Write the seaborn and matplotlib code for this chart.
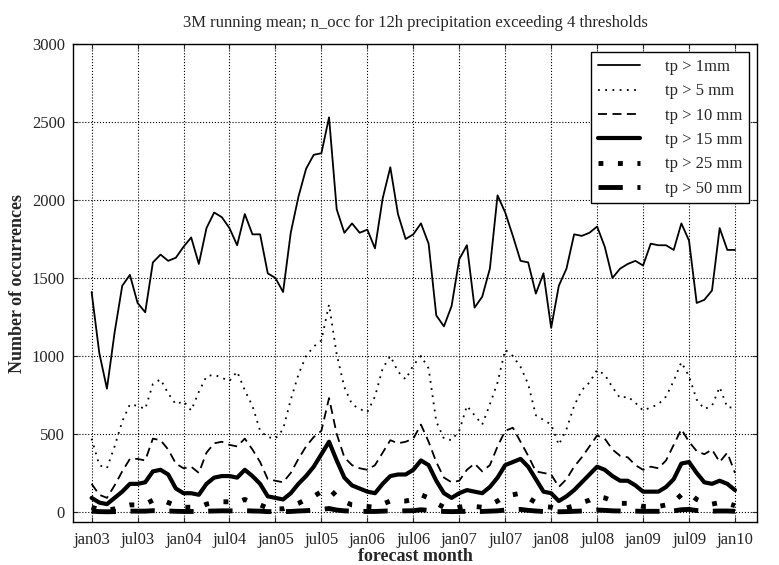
import numpy as np
import pandas as pd
import seaborn as sns
import matplotlib.pyplot as plt

# Dados (médias móveis de 3 meses, jan03 .. jan10)
tp1 = [1410, 1020, 790, 1150, 1450, 1520, 1340, 1280, 1600, 1650, 1610, 1630,
       1700, 1760, 1590, 1820, 1920, 1890, 1820, 1710, 1910, 1780, 1780, 1530,
       1500, 1410, 1790, 2020, 2200, 2290, 2300, 2530, 1940, 1790, 1850, 1790,
       1810, 1690, 2010, 2210, 1910, 1750, 1780, 1850, 1720, 1260, 1190, 1320,
       1620, 1710, 1310, 1380, 1560, 2030, 1920, 1770, 1610, 1600, 1400, 1530,
       1180, 1450, 1560, 1780, 1770, 1790, 1830, 1700, 1500, 1560, 1590, 1610,
       1580, 1720, 1710, 1710, 1680, 1850, 1740, 1340, 1360, 1420, 1820, 1680, 1680]
tp5 = [470, 300, 280, 420, 580, 690, 680, 660, 820, 850, 760, 690,
       710, 650, 770, 870, 880, 860, 840, 900, 780, 680, 520, 480,
       470, 530, 720, 880, 1000, 1060, 1100, 1330, 1010, 800, 690, 660,
       640, 740, 920, 1000, 900, 850, 940, 1000, 920, 580, 470, 460,
       520, 680, 620, 560, 690, 830, 1040, 1000, 930, 820, 620, 590,
       560, 430, 530, 680, 780, 830, 910, 880, 800, 730, 740, 700,
       650, 670, 690, 740, 840, 960, 870, 720, 660, 680, 800, 670, 670]
tp10 = [180, 110, 90, 170, 260, 340, 340, 330, 470, 460, 400, 310,
        280, 290, 250, 380, 440, 450, 430, 420, 470, 400, 320, 210,
        200, 190, 250, 340, 420, 480, 520, 730, 500, 350, 300, 280,
        270, 300, 380, 460, 440, 450, 470, 560, 450, 320, 220, 190,
        200, 270, 310, 260, 300, 420, 520, 540, 450, 360, 260, 250,
        240, 160, 210, 290, 350, 420, 490, 470, 400, 360, 350, 300,
        270, 290, 280, 330, 430, 530, 450, 390, 370, 400, 320, 380, 250]
tp15 = [90, 60, 50, 90, 130, 180, 180, 190, 260, 270, 240, 150,
        120, 120, 110, 180, 220, 230, 230, 220, 270, 230, 180, 100,
        90, 80, 120, 180, 230, 290, 370, 450, 330, 220, 170, 150,
        130, 120, 180, 230, 240, 240, 270, 330, 300, 200, 120, 90,
        120, 140, 130, 120, 160, 220, 300, 320, 340, 290, 210, 130,
        120, 70, 100, 140, 190, 240, 290, 270, 230, 200, 200, 170,
        130, 130, 130, 160, 210, 310, 320, 250, 190, 180, 200, 180, 140]
tp25 = [30, 15, 10, 20, 35, 45, 45, 50, 75, 80, 60, 40,
        30, 30, 30, 50, 60, 65, 65, 60, 80, 60, 45, 25,
        20, 20, 35, 55, 80, 100, 130, 150, 100, 65, 45, 40,
        35, 30, 50, 70, 70, 70, 80, 110, 90, 55, 30, 20,
        30, 40, 35, 30, 45, 70, 100, 110, 120, 90, 60, 35,
        30, 15, 25, 40, 60, 75, 100, 90, 70, 55, 55, 45,
        35, 35, 35, 45, 65, 110, 120, 80, 60, 50, 60, 55, 40]
tp50 = [5, 2, 1, 2, 4, 5, 5, 5, 8, 8, 6, 4,
        3, 3, 3, 5, 6, 7, 7, 6, 8, 6, 5, 2,
        2, 2, 3, 6, 8, 12, 16, 22, 12, 7, 5, 4,
        3, 3, 5, 7, 7, 7, 8, 14, 10, 6, 3, 2,
        3, 4, 3, 3, 5, 7, 12, 14, 16, 10, 6, 3,
        3, 1, 2, 4, 6, 8, 12, 10, 7, 6, 6, 5,
        4, 4, 4, 5, 7, 14, 16, 9, 6, 5, 6, 6, 4]
rotulos = ['tp > 1mm', 'tp > 5 mm', 'tp > 10 mm', 'tp > 15 mm', 'tp > 25 mm', 'tp > 50 mm']
rotulos_x = ['jan03', 'jul03', 'jan04', 'jul04', 'jan05', 'jul05', 'jan06', 'jul06',
             'jan07', 'jul07', 'jan08', 'jul08', 'jan09', 'jul09', 'jan10']

meses = np.arange(len(tp1))
series = [tp1, tp5, tp10, tp15, tp25, tp50]
estilos = [
    dict(linestyle='-', linewidth=1.3),
    dict(linestyle=(0, (1, 3)), linewidth=1.3),
    dict(linestyle=(0, (5, 3)), linewidth=1.3),
    dict(linestyle='-', linewidth=3),
    dict(linestyle=(0, (1, 3)), linewidth=3.5),
    dict(linestyle=(0, (5, 3)), linewidth=3.5),
]

sns.set_style('ticks')
plt.rcParams['font.family'] = ['Liberation Serif', 'DejaVu Serif']
plt.rcParams['xtick.direction'] = 'in'
plt.rcParams['ytick.direction'] = 'in'

fig = plt.figure(figsize=(7.79, 5.65), dpi=100)
ax = fig.add_axes([0.094, 0.076, 0.878, 0.846])

for valores, rotulo, estilo in zip(series, rotulos, estilos):
    sns.lineplot(x=meses, y=valores, ax=ax, color='black', label=rotulo, **estilo)

ax.set_xlim(-2.4, 86.9)
ax.set_ylim(-65, 3000)
ax.set_xticks(np.arange(0, 85, 6))
ax.set_xticklabels(rotulos_x, fontsize=12)
ax.set_yticks(np.arange(0, 3001, 500))
ax.tick_params(axis='y', labelsize=12, pad=6, right=True)
ax.tick_params(axis='x', pad=7, top=True)
ax.grid(True, color='black', linestyle=':', linewidth=0.8)
for lado in ax.spines.values():
    lado.set_linewidth(1)
    lado.set_color('black')

ax.set_xlabel('forecast month', fontsize=13, fontweight='bold', labelpad=0)
ax.set_ylabel('Number of occurrences', fontsize=13, fontweight='bold')
ax.set_title('3M running mean; n_occ for 12h precipitation exceeding 4 thresholds', fontsize=12, pad=12)

leg = ax.legend(loc='upper right', fontsize=12, fancybox=False, framealpha=1,
                edgecolor='black', handlelength=2.5, handletextpad=1.5, borderaxespad=0.5)
leg.get_frame().set_linewidth(1)

plt.savefig('out.png', dpi=100)
